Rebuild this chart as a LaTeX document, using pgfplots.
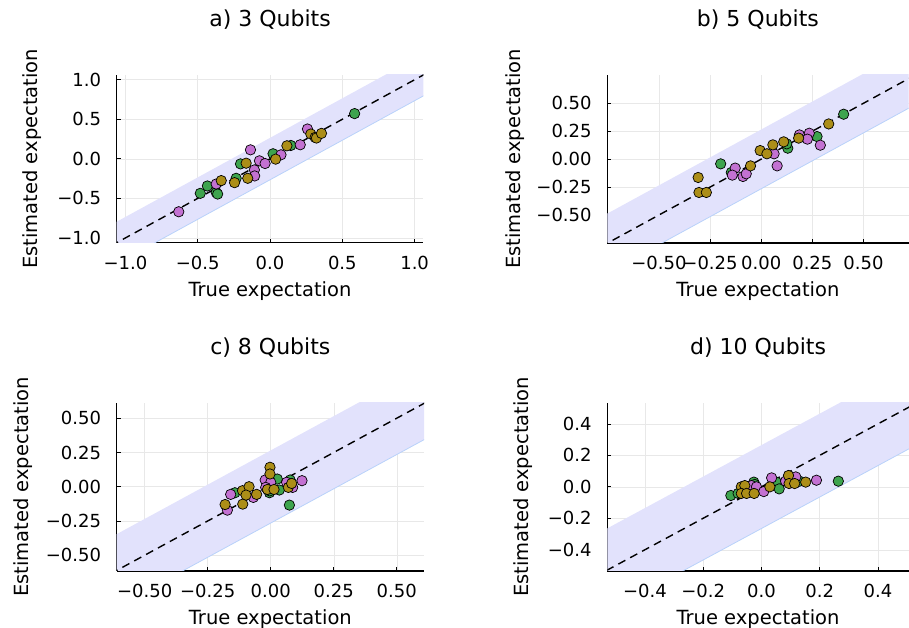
\documentclass[border=0pt]{standalone}
\usepackage{fontspec}
\setmainfont{DejaVu Sans}
\usepackage{pgfplots}
\pgfplotsset{compat=1.18}
\definecolor{cgreen}{RGB}{62,164,78}
\definecolor{cpink}{RGB}{195,113,210}
\definecolor{cgold}{RGB}{172,142,24}
\definecolor{cband}{RGB}{226,226,252}
\definecolor{cedge}{RGB}{185,210,250}
\pgfplotsset{
  panel/.style={
    scale only axis,
    anchor=south west,
    axis lines*=left,
    axis line style={line width=1.3pt, black},
    tick align=inside,
    major tick length=4pt,
    tick style={black, line width=0.8pt},
    grid=major,
    major grid style={black!9, line width=0.5pt},
    /pgf/number format/assume math mode=true,
    xticklabel style={font=\fontsize{18}{18}\selectfont, anchor=base, yshift=-26.5pt, inner sep=0pt},
    yticklabel style={font=\fontsize{18}{18}\selectfont, anchor=east, xshift=-15.5pt, inner sep=0pt},
    xlabel={True expectation},
    ylabel={Estimated expectation},
    xlabel style={font=\fontsize{19.5}{19.5}\selectfont, at={(axis description cs:0.5,0)}, anchor=base, yshift=-54pt, inner sep=0pt},
    title style={font=\fontsize{22}{22}\selectfont, at={(axis description cs:0.5,1)}, anchor=base, yshift=42pt, inner sep=0pt},
    clip=true,
  },
  band/.style={draw=none, fill=cband},
  edge/.style={cedge, line width=0.8pt},
  diag/.style={black, line width=1.4pt, dash pattern=on 8pt off 5.5pt},
  pts/.style={only marks, mark=*, mark size=5.2pt, mark options={fill=#1, draw=black, line width=0.7pt}},
}
\begin{document}
\begin{tikzpicture}
\useasboundingbox (0,0) rectangle (909pt,628pt);
% ---------------- a) 3 Qubits
\begin{axis}[panel, at={(116.7pt,385.3pt)}, width=306.6pt, height=167.7pt,
  title={a) 3 Qubits},
  xmin=-1.06, xmax=1.06, ymin=-1.06, ymax=1.06,
  xtick={-1,-0.5,0,0.5,1}, xticklabels={−1.0,−0.5,0.0,0.5,1.0},
  ytick={-1,-0.5,0,0.5,1}, yticklabels={−1.0,−0.5,0.0,0.5,1.0},
  ylabel style={font=\fontsize{19.5}{19.5}\selectfont, at={(axis description cs:-0.277,0.5)}, anchor=center, inner sep=0pt}]
\addplot[band] coordinates {(-2,-2.265) (2,1.735) (2,2.265) (-2,-1.735)} -- cycle;
\addplot[edge] coordinates {(-2,-2.265) (2,1.735)};
\addplot[diag] coordinates {(-2,-2) (2,2)};
\addplot[pts=cgreen] coordinates {(0.585,0.572) (-0.482,-0.436) (-0.433,-0.343) (-0.372,-0.425) (-0.362,-0.445) (-0.204,-0.064) (-0.234,-0.246) (0.021,0.064) (0.144,0.169)};
\addplot[pts=cpink] coordinates {(-0.631,-0.669) (-0.372,-0.318) (-0.135,0.114) (-0.108,-0.14) (-0.106,-0.216) (-0.073,-0.025) (-0.034,-0.059) (0.076,0.051) (0.209,0.178) (0.259,0.377)};
\addplot[pts=cgold] coordinates {(-0.337,-0.275) (-0.245,-0.301) (-0.165,-0.055) (-0.154,-0.246) (0.039,-0.004) (0.117,0.165) (0.282,0.314) (0.312,0.271) (0.321,0.263) (0.356,0.322)};
\end{axis}
% ---------------- b) 5 Qubits
\begin{axis}[panel, at={(607.3pt,385pt)}, width=301.2pt, height=168pt,
  title={b) 5 Qubits},
  xmin=-0.752, xmax=0.72, ymin=-0.75, ymax=0.753,
  xtick={-0.5,-0.25,0,0.25,0.5}, xticklabels={−0.50,−0.25,0.00,0.25,0.50},
  ytick={-0.5,-0.25,0,0.25,0.5}, yticklabels={−0.50,−0.25,0.00,0.25,0.50},
  ylabel style={font=\fontsize{19.5}{19.5}\selectfont, at={(axis description cs:-0.305,0.5)}, anchor=center, inner sep=0pt}]
\addplot[band] coordinates {(-2,-2.265) (2,1.735) (2,2.265) (-2,-1.735)} -- cycle;
\addplot[edge] coordinates {(-2,-2.265) (2,1.735)};
\addplot[diag] coordinates {(-2,-2) (2,2)};
\addplot[pts=cgreen] coordinates {(0.403,0.402) (-0.198,-0.042) (-0.146,-0.119) (0.130,0.098) (0.125,0.137) (0.273,0.202) (0.187,0.211)};
\addplot[pts=cpink] coordinates {(-0.127,-0.080) (-0.141,-0.143) (-0.089,-0.155) (-0.073,-0.131) (0.063,0.048) (0.078,-0.060) (0.187,0.217) (0.235,0.232) (0.226,0.179) (0.289,0.125)};
\addplot[pts=cgold] coordinates {(-0.308,-0.164) (-0.304,-0.298) (-0.268,-0.298) (-0.052,-0.060) (-0.005,0.077) (0.028,0.048) (0.057,0.128) (0.110,0.155) (0.183,0.188) (0.330,0.315)};
\end{axis}
% ---------------- c) 8 Qubits
\begin{axis}[panel, at={(116.7pt,57pt)}, width=307.3pt, height=168pt,
  title={c) 8 Qubits},
  xmin=-0.611, xmax=0.608, ymin=-0.615, ymax=0.611,
  xtick={-0.5,-0.25,0,0.25,0.5}, xticklabels={−0.50,−0.25,0.00,0.25,0.50},
  ytick={-0.5,-0.25,0,0.25,0.5}, yticklabels={−0.50,−0.25,0.00,0.25,0.50},
  ylabel style={font=\fontsize{19.5}{19.5}\selectfont, at={(axis description cs:-0.303,0.5)}, anchor=center, inner sep=0pt}]
\addplot[band] coordinates {(-2,-2.265) (2,1.735) (2,2.265) (-2,-1.735)} -- cycle;
\addplot[edge] coordinates {(-2,-2.265) (2,1.735)};
\addplot[diag] coordinates {(-2,-2) (2,2)};
\addplot[pts=cgreen] coordinates {(-0.142,-0.044) (-0.005,-0.044) (0.026,0.056) (0.034,-0.024) (0.077,0.049) (0.074,-0.134) (-0.004,-0.030)};
\addplot[pts=cpink] coordinates {(-0.172,-0.171) (-0.159,-0.056) (-0.069,-0.078) (-0.022,0.049) (0.000,0.032) (-0.020,-0.005) (0.063,0.032) (0.087,-0.005) (0.124,0.044)};
\addplot[pts=cgold] coordinates {(-0.003,0.142) (-0.003,0.093) (-0.181,-0.130) (-0.111,-0.127) (-0.112,-0.029) (-0.086,0.000) (-0.098,-0.061) (-0.056,-0.056) (-0.013,-0.020) (0.013,-0.020) (0.070,-0.005) (0.083,0.024)};
\end{axis}
% ---------------- d) 10 Qubits
\begin{axis}[panel, at={(607.3pt,57pt)}, width=301.5pt, height=168pt,
  title={d) 10 Qubits},
  xmin=-0.529, xmax=0.506, ymin=-0.535, ymax=0.533,
  xtick={-0.4,-0.2,0,0.2,0.4}, xticklabels={−0.4,−0.2,0.0,0.2,0.4},
  ytick={-0.4,-0.2,0,0.2,0.4}, yticklabels={−0.4,−0.2,0.0,0.2,0.4},
  ylabel style={font=\fontsize{19.5}{19.5}\selectfont, at={(axis description cs:-0.278,0.5)}, anchor=center, inner sep=0pt}]
\addplot[band] coordinates {(-2,-2.265) (2,1.735) (2,2.265) (-2,-1.735)} -- cycle;
\addplot[edge] coordinates {(-2,-2.265) (2,1.735)};
\addplot[diag] coordinates {(-2,-2) (2,2)};
\addplot[pts=cgreen] coordinates {(-0.105,-0.055) (-0.080,-0.042) (-0.026,0.030) (-0.023,0.015) (0.051,0.030) (0.061,-0.013) (0.131,0.036) (0.264,0.036)};
\addplot[pts=cpink] coordinates {(-0.034,0.008) (-0.017,0.000) (0.008,-0.030) (0.035,0.057) (0.083,0.036) (0.118,0.063) (0.189,0.042)};
\addplot[pts=cgold] coordinates {(-0.069,0.000) (-0.057,0.008) (-0.069,-0.042) (-0.051,-0.042) (-0.025,-0.042) (0.029,0.000) (0.093,0.072) (0.095,0.021) (0.114,0.021) (0.152,0.030)};
\end{axis}
\end{tikzpicture}
\end{document}
